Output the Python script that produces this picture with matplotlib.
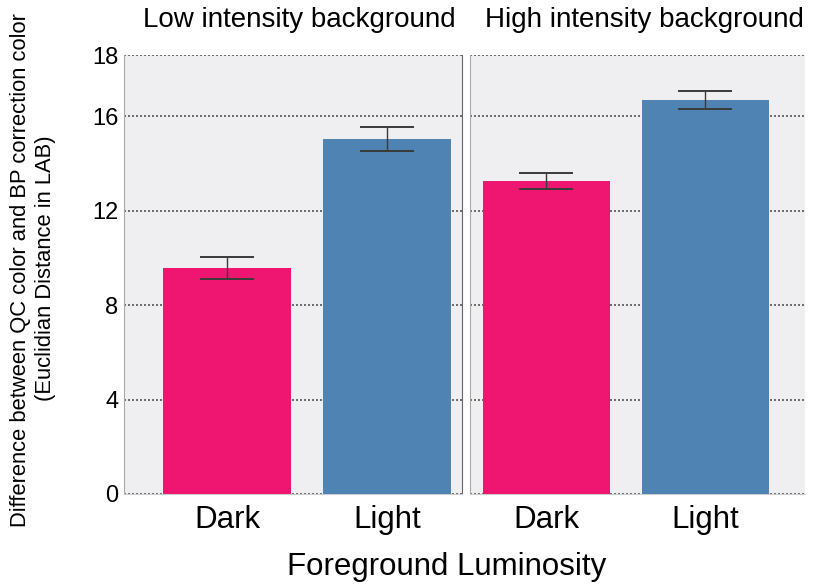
import matplotlib
matplotlib.use("Agg")
import matplotlib.pyplot as plt
from matplotlib import font_manager

# ---- data ----
panels = ["Low intensity background", "High intensity background"]
categories = ["Dark", "Light"]
low_means = [9.58, 15.04]
low_err = [0.48, 0.50]
high_means = [13.28, 16.69]
high_err = [0.34, 0.37]
yticks = [0, 4, 8, 12, 16, 18.6]
ytick_labels = ["0", "4", "8", "12", "16", "18"]
xlabel = "Foreground Luminosity"
ylabel_lines = ["Difference between QC color and BP correction color",
                "(Euclidian Distance in LAB)"]

bar_colors = ["#EE1670", "#4F83B3"]
bg = "#EFEFF2"

plt.rcParams["font.family"] = ["Liberation Sans", "DejaVu Sans"]

names = {f.name for f in font_manager.fontManager.ttflist}
narrow = "Liberation Sans Narrow" in names

W, H = 828, 587
fig = plt.figure(figsize=(W / 100, H / 100), dpi=100)

def px_axes(x0, x1, ytop, ybot):
    return fig.add_axes([x0 / W, (H - ybot) / H, (x1 - x0) / W, (ybot - ytop) / H])

axL = px_axes(124, 462, 55, 494)
axR = px_axes(470, 805, 55, 494)

specs = [
    (axL, low_means, low_err, (-0.644, 1.469)),
    (axR, high_means, high_err, (-0.48, 1.626)),
]
x = list(range(len(categories)))
for ax, means, errs, xl in specs:
    ax.set_facecolor(bg)
    ax.bar(x, means, width=0.8, color=bar_colors, zorder=3, edgecolor="none")
    ax.errorbar(x, means, yerr=errs, fmt="none", ecolor="#3a3a3a",
                elinewidth=1.0, capsize=19.4, capthick=1.4, zorder=4)
    ax.set_xlim(*xl)
    ax.set_ylim(0, yticks[-1])
    ax.set_yticks(yticks)
    ax.yaxis.grid(True, linestyle=(0, (1.2, 1.2)), color="#555555", linewidth=1.2, zorder=1)
    ax.set_axisbelow(True)
    ax.set_xticks(x)
    ax.set_xticklabels(categories, fontsize=22.5)
    ax.tick_params(axis="x", length=0, pad=8)
    ax.tick_params(axis="y", length=0)
    for s in ["top", "right"]:
        ax.spines[s].set_visible(False)
    ax.spines["bottom"].set_color("#cccccc")
    ax.spines["left"].set_color("#aaaaaa")

axL.set_yticklabels(ytick_labels, fontsize=17)
axL.tick_params(axis="y", pad=4)
axL.spines["right"].set_visible(True)
axL.spines["right"].set_color("#666666")
axR.set_yticklabels([])

fig.text(299 / W, 1 - 20 / H, panels[0], ha="center", va="center", fontsize=20)
fig.text(644 / W, 1 - 20 / H, panels[1], ha="center", va="center", fontsize=20)
fig.text(447 / W, 1 - 567 / H, xlabel, ha="center", va="center", fontsize=22.5)

if narrow:
    yfam, ysize = ["Liberation Sans Narrow", "DejaVu Sans"], 18.5
else:
    yfam, ysize = ["Liberation Sans", "DejaVu Sans"], 15.8
fig.text(21 / W, 1 - 270 / H, ylabel_lines[0], ha="center", va="center",
         rotation=90, fontsize=ysize, family=yfam)
fig.text(46 / W, 1 - 268 / H, ylabel_lines[1], ha="center", va="center",
         rotation=90, fontsize=ysize, family=yfam)

fig.savefig("out.png", dpi=100)
